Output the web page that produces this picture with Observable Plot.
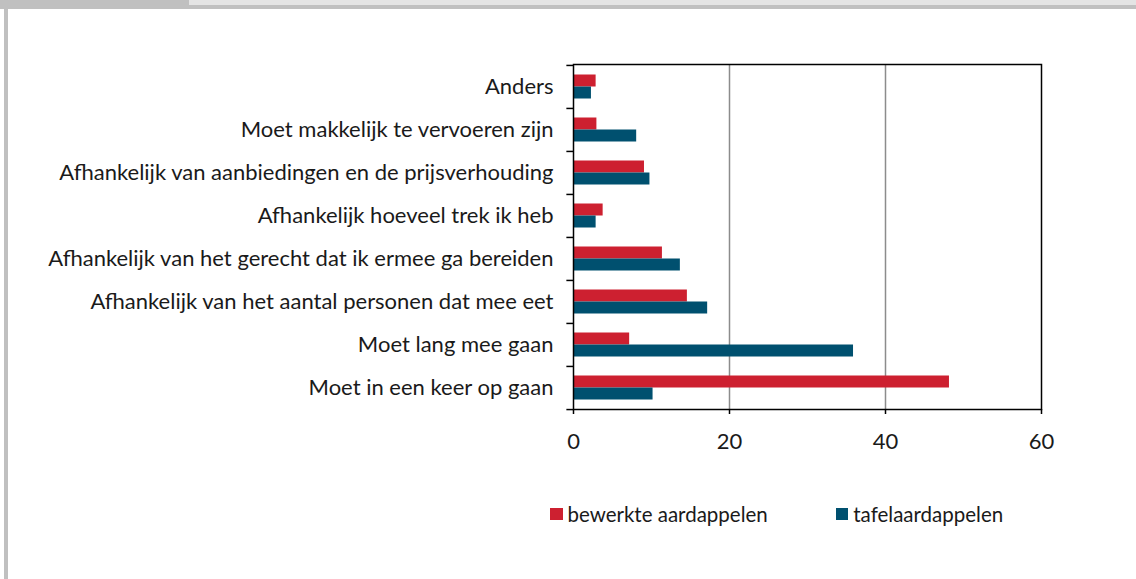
<!DOCTYPE html>
<html>
<head>
<meta charset="utf-8">
<script src="https://cdn.jsdelivr.net/npm/d3@7"></script>
<script src="https://cdn.jsdelivr.net/npm/@observablehq/plot@0.6"></script>
<style>
  html, body { margin: 0; padding: 0; background: #fff; }
  #page { position: relative; width: 1136px; height: 579px; overflow: hidden; background: #fff;
    font-family: Lato, "Liberation Sans", sans-serif; color: #1a1a1a; }
  #topbar { position: absolute; left: 0; top: 0; width: 1136px; height: 9px; background: #c0c0c0; }
  #toplight { position: absolute; left: 189px; top: 0; width: 947px; height: 5px; background: #e4e4e4; }
  #leftbar { position: absolute; left: 4px; top: 0; width: 4px; height: 579px; background: #c0c0c0; }
  #chart { position: absolute; left: 0; top: 0; }
  #legend { position: absolute; top: 502px; left: 550px; display: flex; align-items: center; font-size: 20.5px; }
  .item { display: flex; align-items: center; }
  .sw { width: 12.5px; height: 12.5px; margin-right: 5px; }
</style>
</head>
<body>
<div id="page">
  <div id="topbar"></div>
  <div id="toplight"></div>
  <div id="leftbar"></div>
  <div id="chart"></div>
  <div id="legend"></div>
</div>
<script>
const categories = [
  "Anders",
  "Moet makkelijk te vervoeren zijn",
  "Afhankelijk van aanbiedingen en de prijsverhouding",
  "Afhankelijk hoeveel trek ik heb",
  "Afhankelijk van het gerecht dat ik ermee ga bereiden",
  "Afhankelijk van het aantal personen dat mee eet",
  "Moet lang mee gaan",
  "Moet in een keer op gaan"
];
const seriesNames = ["bewerkte aardappelen", "tafelaardappelen"];
const bewerkt = [2.9, 3.0, 9.1, 3.8, 11.4, 14.6, 7.2, 48.2];
const tafel   = [2.3, 8.1, 9.8, 2.9, 13.7, 17.2, 35.9, 10.2];
const xTicks = [0, 20, 40, 60];
const gridTicks = [20, 40];
const colors = ["#cd2030", "#00506f"];

const rowsRed = categories.map((c, i) => ({cat: c, value: bewerkt[i]}));
const rowsBlue = categories.map((c, i) => ({cat: c, value: tafel[i]}));

const mTop = 64, mBottom = 60, H = 469;
const band = (H - mTop - mBottom) / categories.length;

const chart = Plot.plot({
  width: 1136,
  height: H,
  marginLeft: 573,
  marginRight: 95,
  marginTop: mTop,
  marginBottom: mBottom,
  style: {
    fontFamily: 'Lato, "Liberation Sans", sans-serif',
    fontSize: "22px",
    color: "#1a1a1a",
    background: "transparent"
  },
  x: {domain: [0, 60], ticks: xTicks},
  y: {domain: categories, padding: 0},
  marks: [
    Plot.ruleX(gridTicks, {stroke: "#8c8c8c", strokeWidth: 1.5}),
    Plot.barX(rowsRed, {y: "cat", x: "value", fill: colors[0], insetTop: 9.5, insetBottom: 21.5}),
    Plot.barX(rowsBlue, {y: "cat", x: "value", fill: colors[1], insetTop: 21.5, insetBottom: 9.5}),
    Plot.frame({stroke: "#000", strokeWidth: 1.5}),
    Plot.ruleY(categories, {y: d => d, x1: 0, x2: -0.85, dy: -band / 2, stroke: "#000", strokeWidth: 1.5, clip: false}),
    Plot.ruleY(categories.slice(-1), {y: d => d, x1: 0, x2: -0.85, dy: band / 2, stroke: "#000", strokeWidth: 1.5, clip: false}),
    Plot.axisY({tickSize: 0, tickPadding: 20, label: null, fontSize: 22}),
    Plot.axisX({ticks: xTicks, tickSize: 5, tickPadding: 19, label: null, fontSize: 22, stroke: "#000", strokeWidth: 1.5, strokeOpacity: 1})
  ]
});
document.getElementById("chart").appendChild(chart);

const legend = document.getElementById("legend");
seriesNames.forEach((name, i) => {
  const item = document.createElement("div");
  item.className = "item";
  if (i > 0) item.style.marginLeft = "68px";
  const sw = document.createElement("div");
  sw.className = "sw";
  sw.style.background = colors[i];
  const t = document.createElement("span");
  t.textContent = name;
  item.appendChild(sw);
  item.appendChild(t);
  legend.appendChild(item);
});
</script>
</body>
</html>
